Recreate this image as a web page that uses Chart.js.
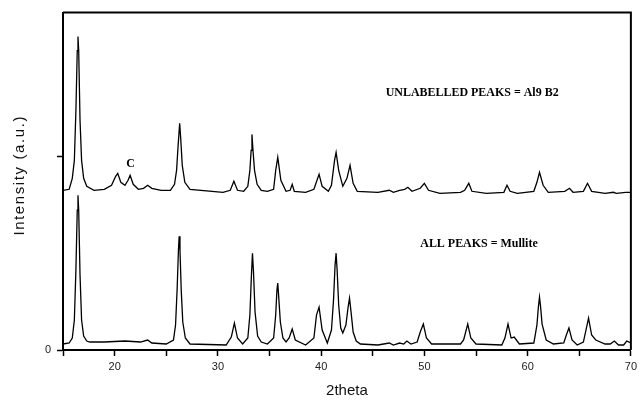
<!DOCTYPE html>
<html>
<head>
<meta charset="utf-8">
<script src="https://cdn.jsdelivr.net/npm/chart.js@4.4.1/dist/chart.umd.min.js"></script>
<style>
  html, body { margin: 0; padding: 0; background: #fff; }
</style>
</head>
<body>
<canvas id="xrd" width="641" height="400"></canvas>
<script>
// lower pattern - mullite
const mulliteTheta = [15.0, 15.6, 15.9, 16.1, 16.25, 16.38, 16.45, 16.52, 16.65, 16.8, 17.0, 17.3, 17.6,
  19.0, 21.0, 22.5, 23.2, 23.6, 25.0,
  25.7, 25.9, 26.05, 26.18, 26.25, 26.33, 26.45, 26.6, 26.85, 27.3,
  30.8, 31.3, 31.6, 31.9, 32.4,
  32.9, 33.1, 33.25, 33.35, 33.45, 33.6, 33.85, 34.2, 34.8,
  35.4, 35.6, 35.72, 35.8, 35.9, 36.05, 36.3, 36.6, 36.9, 37.2, 37.5, 38.5,
  39.3, 39.55, 39.8, 40.1, 40.6,
  41.0, 41.2, 41.35, 41.45, 41.55, 41.7, 41.9, 42.1, 42.4, 42.6, 42.75, 42.9, 43.1, 43.4, 43.8,
  45.5, 46.6, 47.0, 47.6, 48.0, 48.3, 48.7, 49.3, 49.6, 49.9, 50.2, 50.7, 53.5, 53.8,
  54.2, 54.5, 55.0, 57.5, 57.8, 58.1, 58.4, 58.7, 59.2,
  60.6, 60.9, 61.05, 61.15, 61.25, 61.4, 61.8, 62.5,
  63.5, 63.75, 64.0, 64.3, 64.8, 65.4, 65.65, 65.9, 66.2, 66.6, 67.5, 68.0, 68.4, 68.8, 69.3, 69.6, 70.0];
const mulliteCounts = [6, 7, 12, 30, 80, 140, 155, 140, 75, 30, 14, 9, 8,
  8, 9, 8, 10, 7, 6,
  10, 25, 60, 100, 114, 100, 60, 28, 12, 6,
  5, 13, 27, 12, 6,
  12, 35, 75, 97, 78, 38, 14, 8, 6,
  12, 35, 60, 67, 52, 28, 12, 8, 12, 21, 10, 5,
  12, 35, 43, 20, 7,
  20, 50, 85, 97, 80, 45, 22, 17, 25, 42, 52, 38, 18, 9, 6,
  5, 7, 5, 7, 6, 9, 6, 8, 18, 26, 12, 6, 6, 10,
  26, 12, 6, 5, 12, 26, 12, 13, 6,
  7, 25, 44, 53, 44, 26, 10, 6,
  7, 15, 22, 10, 5, 8, 20, 32, 15, 10, 6, 6, 9, 5, 5, 9, 7];

// upper pattern - Al9B2 sample (offset)
const al9b2Theta = [15.0, 15.6, 15.9, 16.1, 16.25, 16.38, 16.45, 16.52, 16.65, 16.8, 17.0, 17.3, 18.0,
  19.0, 19.7, 20.1, 20.3, 20.6, 21.0, 21.3, 21.5, 21.8, 22.3, 22.8, 23.2, 23.6, 24.5, 25.4,
  25.8, 26.0, 26.15, 26.3, 26.4, 26.55, 26.8, 27.3, 30.5, 31.2, 31.55, 31.9, 32.5,
  32.9, 33.1, 33.22, 33.3, 33.4, 33.55, 33.8, 34.2, 34.8,
  35.4, 35.6, 35.8, 36.1, 36.6, 37.0, 37.2, 37.4, 38.5, 39.3,
  39.6, 39.8, 40.1, 40.7, 41.0, 41.3, 41.45, 41.7, 42.1, 42.5, 42.8, 43.1, 43.5, 45.5, 46.6, 47.0, 47.6, 48.1,
  48.4, 48.8, 49.6, 50.0, 50.4, 51.5, 53.5, 53.9, 54.3, 54.6, 56.0, 57.7, 58.0, 58.3, 59.0, 60.6, 60.9, 61.15,
  61.5, 62.0, 63.6, 64.05, 64.4, 65.4, 65.8, 66.2, 67.5, 68.3, 68.6, 69.5, 70.0];
const al9b2Counts = [160, 161, 172, 190, 240, 300, 314, 300, 230, 190, 172, 164, 160,
  161, 165, 174, 177, 168, 165, 170, 175, 166, 161, 162, 165, 162, 160, 160,
  166, 180, 205, 227, 212, 185, 168, 161, 158, 160, 169, 160, 159,
  164, 180, 200, 216, 200, 180, 166, 160, 159,
  161, 180, 193, 170, 159, 160, 166, 159, 158, 161,
  170, 176, 164, 159, 165, 190, 198, 180, 164, 172, 185, 167, 159, 158, 160, 158, 160, 161,
  163, 159, 162, 167, 160, 157, 158, 160, 167, 159, 157, 158, 165, 159, 157, 159, 168, 178,
  165, 158, 159, 162, 158, 159, 167, 159, 157, 158, 157, 158, 158];

const yTickValues = [0, 194];
const yTickLabels = ['0', ''];
const xTickLabels = ['20', '30', '40', '50', '60', '70'];

// text drawn inside the plot, in data coordinates
const noteTexts = ['UNLABELLED PEAKS = Al9 B2', 'ALL PEAKS = Mullite', 'C'];
const noteTheta = [46.25, 49.6, 21.55];
const noteCounts = [258, 107, 187];
const noteAlign = ['left', 'left', 'center'];

const toPoints = (xs, ys) => xs.map((x, i) => ({ x: x, y: ys[i] }));

const framePlugin = {
  id: 'frame',
  afterDraw(chart) {
    const { ctx, chartArea } = chart;
    ctx.save();
    ctx.strokeStyle = '#000';
    ctx.lineWidth = 2;
    ctx.beginPath();
    ctx.moveTo(chartArea.left, chartArea.top);
    ctx.lineTo(chartArea.right, chartArea.top);
    ctx.lineTo(chartArea.right, chartArea.bottom);
    ctx.stroke();
    ctx.restore();
  }
};

const notesPlugin = {
  id: 'notes',
  afterDatasetsDraw(chart) {
    const ctx = chart.ctx;
    const xs = chart.scales.x, ys = chart.scales.y;
    ctx.save();
    ctx.fillStyle = '#000';
    ctx.textBaseline = 'middle';
    noteTexts.forEach((t, i) => {
      const px = xs.getPixelForValue(noteTheta[i]);
      const py = ys.getPixelForValue(noteCounts[i]);
      ctx.save();
      ctx.translate(px, py);
      ctx.scale(0.92, 1);   // the print is a condensed bold serif
      ctx.font = 'bold 13px "Liberation Serif", "Times New Roman", serif';
      ctx.textAlign = noteAlign[i];
      ctx.fillText(t, 0, 0);
      ctx.restore();
    });

    // y title, drawn by hand to get the wide letter spacing of the original
    const { chartArea } = chart;
    ctx.save();
    ctx.translate(20, (chartArea.top + chartArea.bottom) / 2 - 6);
    ctx.rotate(-Math.PI / 2);
    ctx.font = '15px Arial, "Liberation Sans", sans-serif';
    ctx.letterSpacing = '1.6px';
    ctx.fillStyle = '#111';
    ctx.textAlign = 'center';
    ctx.textBaseline = 'middle';
    ctx.fillText('Intensity (a.u.)', 0, 0);
    ctx.restore();
    ctx.restore();
  }
};

const tickFont = { family: 'Arial, "Liberation Sans", sans-serif', size: 11 };

new Chart(document.getElementById('xrd').getContext('2d'), {
  type: 'line',
  data: {
    datasets: [
      { label: 'Al9B2', data: toPoints(al9b2Theta, al9b2Counts), borderColor: '#000', borderWidth: 1.3, pointRadius: 0, tension: 0 },
      { label: 'Mullite', data: toPoints(mulliteTheta, mulliteCounts), borderColor: '#000', borderWidth: 1.3, pointRadius: 0, tension: 0 }
    ]
  },
  options: {
    responsive: false,
    animation: false,
    layout: { padding: { top: 12, right: 6, left: 0, bottom: 0 } },
    plugins: { legend: { display: false }, tooltip: { enabled: false } },
    scales: {
      x: {
        type: 'linear',
        min: 15,
        max: 70,
        afterFit: s => { s.height = 50; },
        ticks: {
          stepSize: 5,
          autoSkip: false,
          maxRotation: 0,
          padding: 4,
          color: '#222',
          font: tickFont,
          callback: v => xTickLabels.includes(String(v)) ? String(v) : ''
        },
        grid: { drawOnChartArea: false, tickLength: 6, color: '#000', tickWidth: 1.5 },
        border: { color: '#000', width: 2 },
        title: { display: true, text: '2theta', color: '#111', font: { family: 'Arial, "Liberation Sans", sans-serif', size: 15 }, padding: { top: 0, bottom: 0 } }
      },
      y: {
        min: 0,
        max: 338,
        afterFit: s => { s.width = 63; },
        afterBuildTicks: axis => { axis.ticks = yTickValues.map(v => ({ value: v })); },
        ticks: {
          padding: 6,
          color: '#222',
          font: tickFont,
          callback: (v, i) => yTickLabels[i]
        },
        grid: { drawOnChartArea: false, tickLength: 6, color: '#000', tickWidth: 1.5 },
        border: { color: '#000', width: 2 },
        title: { display: false }
      }
    }
  },
  plugins: [framePlugin, notesPlugin]
});
</script>
</body>
</html>
